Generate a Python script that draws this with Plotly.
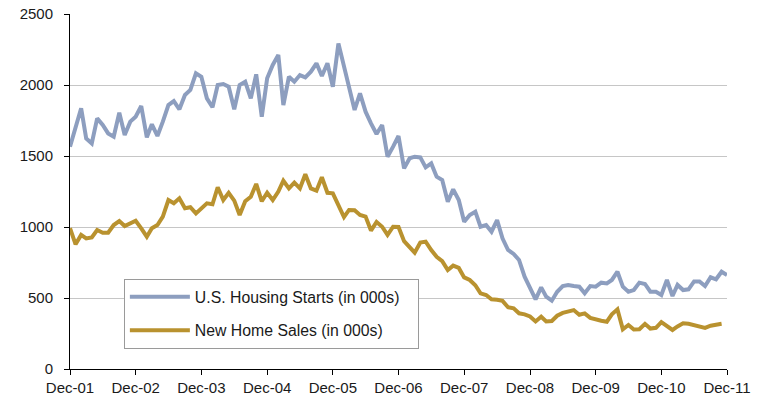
import pandas as pd
import plotly.graph_objects as go

housing_starts = [1566,
    1698, 1836, 1624, 1589, 1765, 1718, 1659, 1636, 1805, 1648, 1742, 1777,
    1852, 1631, 1723, 1641, 1742, 1859, 1887, 1829, 1930, 1965, 2082, 2058,
    1906, 1843, 2000, 2007, 1988, 1829, 2000, 2023, 1906, 2075, 1777, 2047,
    2141, 2211, 1859, 2058, 2023, 2070, 2054, 2094, 2153, 2063, 2153, 1988,
    2293, 2129, 1976, 1824, 1941, 1812, 1730, 1655, 1718, 1495, 1566, 1641,
    1413, 1484, 1495, 1490, 1420, 1448, 1354, 1331, 1178, 1265, 1190, 1037,
    1085, 1108, 1002, 1014, 967, 1049, 920, 838, 810, 768, 650, 568,
    491, 575, 509, 481, 544, 584, 592, 584, 580, 533, 584, 580,
    608, 603, 627, 685, 580, 544, 556, 608, 599, 544, 544, 521,
    627, 514, 592, 556, 561, 617, 617, 584, 646, 632, 685, 662]

new_home_sales = [991,
    878, 944, 920, 927, 979, 960, 960, 1014, 1042, 1007, 1026, 1044,
    991, 932, 991, 1014, 1073, 1190, 1167, 1202, 1132, 1139, 1096, 1135,
    1167, 1160, 1280, 1190, 1241, 1186, 1085, 1181, 1213, 1303, 1181, 1241,
    1190, 1249, 1326, 1272, 1312, 1272, 1371, 1272, 1256, 1350, 1241, 1237,
    1160, 1070, 1120, 1118, 1085, 1073, 975, 1035, 1002, 944, 1002, 1000,
    900, 861, 819, 890, 897, 838, 790, 760, 697, 728, 712, 645,
    627, 590, 533, 521, 491, 488, 480, 435, 427, 392, 385, 370,
    335, 368, 335, 338, 375, 395, 408, 415, 382, 392, 360, 348,
    340, 333, 385, 420, 280, 310, 278, 280, 318, 285, 290, 330,
    305, 275, 300, 322, 318, 310, 300, 290, 305, 310, 318]

dates_starts = pd.date_range("2001-12-01", periods=len(housing_starts), freq="MS")
dates_sales = pd.date_range("2001-12-01", periods=len(new_home_sales), freq="MS")

series_names = ["U.S. Housing Starts (in 000s)", "New Home Sales (in 000s)"]
series_colors = ["#8D9EBF", "#B9922F"]

FONT = "Liberation Sans, Arial, sans-serif"
PAD = "\u00a0\u00a0\u00a0"  # right padding inside the legend box

fig = go.Figure()
fig.add_trace(go.Scatter(x=dates_starts, y=housing_starts, mode="lines",
                         name=series_names[0] + PAD, legendgroup="a",
                         line=dict(color=series_colors[0], width=4)))
fig.add_trace(go.Scatter(x=dates_sales, y=new_home_sales, mode="lines",
                         name=series_names[1], legendgroup="b",
                         line=dict(color=series_colors[1], width=4)))

fig.update_layout(
    width=763, height=401,
    margin=dict(l=70, r=36, t=14, b=32),
    paper_bgcolor="white", plot_bgcolor="white",
    font=dict(family=FONT, size=15, color="#1a1a1a"),
    hovermode=False,
    legend=dict(x=0.082, y=0.2535, xanchor="left", yanchor="top",
                bgcolor="white", bordercolor="#9a9a9a", borderwidth=1,
                font=dict(family=FONT, size=15.8, color="#1a1a1a"),
                itemwidth=60,
                tracegroupgap=10, traceorder="grouped"),
    xaxis=dict(type="date", range=["2001-12-01", "2011-12-01"],
               dtick="M12", tick0="2001-12-01", tickformat="%b-%y",
               showgrid=False, showline=True, linecolor="black", linewidth=1,
               ticks="outside", ticklen=5, tickcolor="black", zeroline=False,
               automargin=False),
    yaxis=dict(range=[0, 2500], dtick=500, showgrid=True, gridcolor="#c6c6c6",
               gridwidth=1, showline=True, linecolor="black", linewidth=1,
               ticks="outside", ticklen=5, tickcolor="black", zeroline=False,
               ticklabelstandoff=8, automargin=False),
)

fig.write_html("out.html", config={"displayModeBar": False},
               post_script="document.body.style.margin='0';")
